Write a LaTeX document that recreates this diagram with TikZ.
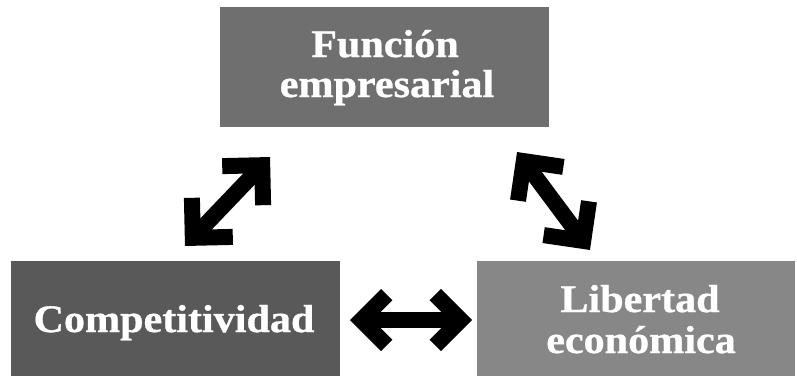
\documentclass[tikz,border=0pt]{standalone}
\usepackage{fontspec}
\setmainfont{Liberation Serif}[FakeStretch=1.08, BoldFeatures={FakeBold=0.8}]
\usetikzlibrary{calc}
\definecolor{boxtop}{HTML}{6F6F6F}
\definecolor{boxleft}{HTML}{595959}
\definecolor{boxright}{HTML}{878787}
\newcommand\dblarr[3]{%
  \draw[arr] (#1) -- (#2);
  \draw[arr] ($(#1)!#3!45:(#2)$) -- (#1) -- ($(#1)!#3!-45:(#2)$);
  \draw[arr] ($(#2)!#3!45:(#1)$) -- (#2) -- ($(#2)!#3!-45:(#1)$);
}
\begin{document}
\begin{tikzpicture}[x=1pt,y=-1pt,
  box/.style={rectangle, inner sep=0pt, outer sep=0pt, draw=none},
  lbl/.style={text=white, font=\fontsize{39}{40}\selectfont\bfseries, anchor=base, inner sep=0pt},
  arr/.style={line width=16pt, black, line join=miter, line cap=butt}]
\useasboundingbox (0,0) rectangle (797,376);
\fill[white] (0,0) rectangle (797,376);
% boxes
\node[box, fill=boxtop, minimum width=329pt, minimum height=120pt] (fe) at (384.5,67) {};
\node[box, fill=boxleft, minimum width=329pt, minimum height=115pt] (co) at (175.5,318.5) {};
\node[box, fill=boxright, minimum width=318pt, minimum height=115pt] (le) at (636,318.5) {};
% labels
\node[lbl] (fe1) at (385,57) {Función};
\node[lbl] (fe2) at (387,97) {empresarial};
\node[lbl] (co1) at (174,332) {Competitividad};
\node[lbl] (le1) at (640,312) {Libertad};
\node[lbl] (le2) at (641,353) {económica};
% arrows
\coordinate (la) at (192.8,237.8);
\coordinate (lb) at (262.2,165.2);
\coordinate (ra) at (523.8,161.1);
\coordinate (rb) at (583.2,240.9);
\coordinate (ha) at (361.3,320);
\coordinate (hb) at (460.7,320);
\dblarr{la}{lb}{40pt}
\dblarr{ra}{rb}{40pt}
\dblarr{ha}{hb}{36pt}
\end{tikzpicture}
\end{document}
